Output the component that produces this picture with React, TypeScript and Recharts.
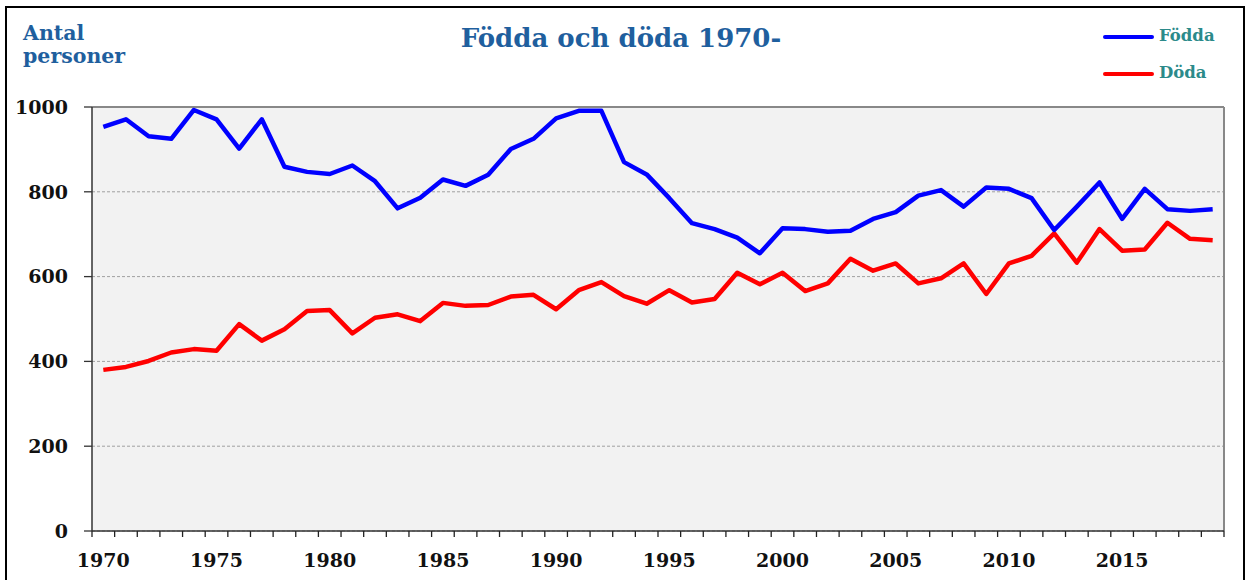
import React from 'react';
import { LineChart, Line, XAxis, YAxis, CartesianGrid, ReferenceLine } from 'recharts';

const years = [
  1970, 1971, 1972, 1973, 1974, 1975, 1976, 1977, 1978, 1979,
  1980, 1981, 1982, 1983, 1984, 1985, 1986, 1987, 1988, 1989,
  1990, 1991, 1992, 1993, 1994, 1995, 1996, 1997, 1998, 1999,
  2000, 2001, 2002, 2003, 2004, 2005, 2006, 2007, 2008, 2009,
  2010, 2011, 2012, 2013, 2014, 2015, 2016, 2017, 2018, 2019,
];

const fodda = [
  953, 971, 931, 925, 993, 971, 902, 971, 859, 847,
  842, 862, 825, 761, 786, 829, 814, 840, 901, 925,
  973, 991, 991, 870, 841, 785, 726, 712, 692, 655,
  714, 712, 706, 708, 736, 752, 791, 804, 765, 810,
  807, 785, 710, 765, 822, 736, 807, 759, 755, 759,
];

const doda = [
  380, 387, 401, 421, 429, 425, 488, 449, 476, 519,
  521, 466, 503, 511, 495, 538, 531, 533, 553, 557,
  523, 568, 587, 554, 536, 568, 539, 547, 609, 582,
  609, 566, 584, 642, 614, 631, 584, 596, 631, 559,
  631, 649, 702, 633, 712, 661, 664, 727, 689, 686,
];

const yTicks = [0, 200, 400, 600, 800, 1000];
const xLabels = [1970, 1975, 1980, 1985, 1990, 1995, 2000, 2005, 2010, 2015];

const data = years.map((year, i) => ({ year, fodda: fodda[i], doda: doda[i] }));
// tick marks sit on the band edges between years
const xTickMarks = [...years.map(y => y - 0.5), years[years.length - 1] + 0.5];
const xTicks = [...xTickMarks, ...xLabels].sort((a, b) => a - b);

const FONT = '"DejaVu Serif", "Liberation Serif", serif';
const TITLE_BLUE = '#1f5f9e';
const TEAL = '#2b8a8a';

const XTick = (props: any) => {
  const { x, y, payload } = props;
  const v = payload.value;
  if (v % 1 !== 0) {
    return <line x1={x} x2={x} y1={y} y2={y + 6} stroke="#222" strokeWidth={1.3} />;
  }
  return (
    <text x={x} y={y + 36} textAnchor="middle" fontFamily={FONT} fontWeight="bold" fontSize={19} fill="#111">
      {v}
    </text>
  );
};

const unitStyle: React.CSSProperties = {
  position: 'absolute', left: 23, fontFamily: FONT, fontWeight: 'bold',
  fontSize: 20.5, lineHeight: '21px', color: TITLE_BLUE,
};

export default function App() {
  return (
    <div style={{ position: 'relative', width: 1252, height: 580, overflow: 'hidden', background: '#fff' }}>
      <style>{'body{margin:0}'}</style>
      <div
        style={{
          position: 'absolute', left: 5, top: 6, width: 1240, height: 600,
          border: '2px solid #000', boxSizing: 'border-box',
        }}
      />

      <div style={{ ...unitStyle, top: 23 }}>Antal</div>
      <div style={{ ...unitStyle, top: 46 }}>personer</div>

      <div style={{ position: 'absolute', left: 621, top: 23, transform: 'translateX(-50%)', whiteSpace: 'nowrap', fontFamily: FONT, fontWeight: 'bold', fontSize: 26, lineHeight: '30px', color: TITLE_BLUE }}>
        Födda och döda 1970-
      </div>

      {/* legend */}
      <div style={{ position: 'absolute', left: 1103, top: 35, width: 51, height: 4, background: '#0000ff', borderRadius: 2 }} />
      <div style={{ position: 'absolute', left: 1159, top: 26, fontFamily: FONT, fontWeight: 'bold', fontSize: 16.5, lineHeight: '20px', color: TEAL }}>Födda</div>
      <div style={{ position: 'absolute', left: 1103, top: 72, width: 51, height: 4, background: '#ff0000', borderRadius: 2 }} />
      <div style={{ position: 'absolute', left: 1159, top: 63, fontFamily: FONT, fontWeight: 'bold', fontSize: 16.5, lineHeight: '20px', color: TEAL }}>Döda</div>

      <div style={{ position: 'absolute', left: 0, top: 0 }}>
        <LineChart width={1252} height={580} data={data} margin={{ top: 107, right: 28, left: 12, bottom: 8 }}>
          <CartesianGrid vertical={false} stroke="#a0a0a0" strokeDasharray="3 2" fill="#f2f2f2" />
          <XAxis
            dataKey="year"
            type="number"
            domain={[1969.5, 2019.5]}
            ticks={xTicks}
            interval={0}
            tick={<XTick />}
            tickLine={false}
            tickSize={0}
            tickMargin={0}
            height={41}
            axisLine={{ stroke: '#333', strokeWidth: 1.5 }}
          />
          <YAxis
            type="number"
            domain={[0, 1000]}
            ticks={yTicks}
            interval={0}
            width={80}
            tickSize={8}
            tickMargin={16}
            tickLine={{ stroke: '#333', strokeWidth: 1.3 }}
            axisLine={{ stroke: '#333', strokeWidth: 1.5 }}
            tick={{ fontFamily: FONT, fontWeight: 'bold', fontSize: 19, fill: '#111' }}
          />
          <ReferenceLine y={1000} stroke="#888" strokeWidth={2} />
          <ReferenceLine x={2019.5} stroke="#888" strokeWidth={2} />
          <Line type="linear" dataKey="doda" stroke="#ff0000" strokeWidth={4.5} dot={false} strokeLinejoin="round" isAnimationActive={false} />
          <Line type="linear" dataKey="fodda" stroke="#0000ff" strokeWidth={4.5} dot={false} strokeLinejoin="round" isAnimationActive={false} />
        </LineChart>
      </div>
    </div>
  );
}
